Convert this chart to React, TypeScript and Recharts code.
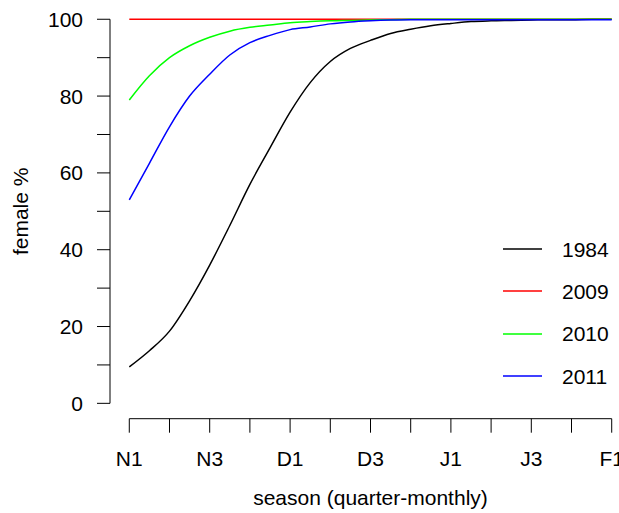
import { Legend, Line, LineChart, ReferenceLine, XAxis, YAxis } from "recharts";

// quarter-month labels along the season axis
const seasons = ["N1", "N2", "N3", "N4", "D1", "D2", "D3", "D4", "J1", "J2", "J3", "J4", "F1"];

// female % read every half quarter-month, N1 .. F1
const y1984 = [9.5, 13.7, 18.8, 26.7, 36, 46.3, 57, 66.5, 75.8, 83.5, 89, 92.4, 94.5, 96.3, 97.4, 98.3, 98.9, 99.4, 99.6, 99.7, 99.8, 99.9, 99.9, 100, 100];
const y2009 = [100, 100, 100, 100, 100, 100, 100, 100, 100, 100, 100, 100, 100, 100, 100, 100, 100, 100, 100, 100, 100, 100, 100, 100, 100];
const y2010 = [79, 85.3, 90, 93.1, 95.3, 96.9, 97.9, 98.5, 99.1, 99.4, 99.6, 99.7, 99.8, 99.9, 100, 100, 100, 100, 100, 100, 100, 100, 100, 100, 100];
const y2011 = [53, 62.5, 72, 80, 85.7, 90.7, 93.9, 95.8, 97.3, 98, 98.8, 99.3, 99.6, 99.8, 99.9, 99.9, 99.9, 99.9, 99.9, 99.9, 99.9, 99.9, 99.9, 99.9, 99.9];

const yTicks = [0, 10, 20, 30, 40, 50, 60, 70, 80, 90, 100];

const series = [
  { key: "1984", color: "#000000", values: y1984 },
  { key: "2009", color: "#FF0000", values: y2009 },
  { key: "2010", color: "#00FF00", values: y2010 },
  { key: "2011", color: "#0000FF", values: y2011 },
];

const FONT = "'Liberation Sans', Arial, sans-serif";
const FS = 21;

const data = y1984.map((_, i) => {
  const row: Record<string, number> = { x: i / 2 };
  series.forEach((s) => (row[s.key] = s.values[i]));
  return row;
});

function renderLegend() {
  return (
    <div style={{ fontFamily: FONT, fontSize: FS, color: "#000" }}>
      {series.map((s) => (
        <div key={s.key} style={{ display: "flex", alignItems: "center", height: 42.3 }}>
          <svg width={39} height={4} style={{ marginRight: 20 }}>
            <line x1={0} x2={39} y1={2} y2={2} stroke={s.color} strokeWidth={1.5} />
          </svg>
          <span style={{ lineHeight: 1 }}>{s.key}</span>
        </div>
      ))}
    </div>
  );
}

export default function App() {
  return (
    <div style={{ width: 619, height: 513, overflow: "hidden", position: "relative", background: "#fff" }}>
      <style>{`body{margin:0}`}</style>
      <LineChart width={660} height={513} data={data} margin={{ top: 3.9, right: 29, bottom: 0, left: 0 }}>
        <XAxis
          dataKey="x"
          type="number"
          domain={[-0.48, 12.48]}
          ticks={seasons.map((_, i) => i)}
          interval={0}
          tickFormatter={(v) => (v % 2 === 0 ? seasons[v] : "")}
          axisLine={false}
          stroke="#000"
          tickSize={14}
          tickMargin={18}
          height={94.3}
          tick={{ fill: "#000", fontSize: FS, fontFamily: FONT }}
          label={{
            content: ({ viewBox }: any) => (
              <text
                x={viewBox.x + viewBox.width / 2}
                y={viewBox.y + 86}
                textAnchor="middle"
                fontSize={FS}
                fontFamily={FONT}
                fill="#000"
              >
                season (quarter-monthly)
              </text>
            ),
          }}
        />
        <YAxis
          type="number"
          domain={[-4, 104]}
          ticks={yTicks}
          interval={0}
          tickFormatter={(v) => (v % 20 === 0 ? String(v) : "")}
          axisLine={false}
          stroke="#000"
          tickSize={13}
          tickMargin={14}
          width={110}
          tick={{ fill: "#000", fontSize: FS, fontFamily: FONT }}
          label={{
            content: ({ viewBox }: any) => {
              const x = viewBox.x + 28;
              const y = viewBox.y + viewBox.height / 2;
              return (
                <text
                  x={x}
                  y={y}
                  transform={`rotate(-90 ${x} ${y})`}
                  textAnchor="middle"
                  fontSize={FS}
                  fontFamily={FONT}
                  fill="#000"
                >
                  female %
                </text>
              );
            },
          }}
        />
        <ReferenceLine
          segment={[{ x: -0.48, y: 0 }, { x: -0.48, y: 100 }]}
          stroke="#000"
          ifOverflow="visible"
        />
        <ReferenceLine
          segment={[{ x: 0, y: -4 }, { x: 12, y: -4 }]}
          stroke="#000"
          ifOverflow="visible"
        />
        {series.map((s) => (
          <Line
            key={s.key}
            dataKey={s.key}
            type="monotone"
            stroke={s.color}
            strokeWidth={1.5}
            dot={false}
            isAnimationActive={false}
          />
        ))}
        <Legend
          layout="vertical"
          align="center"
          verticalAlign="middle"
          content={renderLegend}
          wrapperStyle={{ left: 503, top: 228, width: 116 }}
        />
      </LineChart>
    </div>
  );
}
